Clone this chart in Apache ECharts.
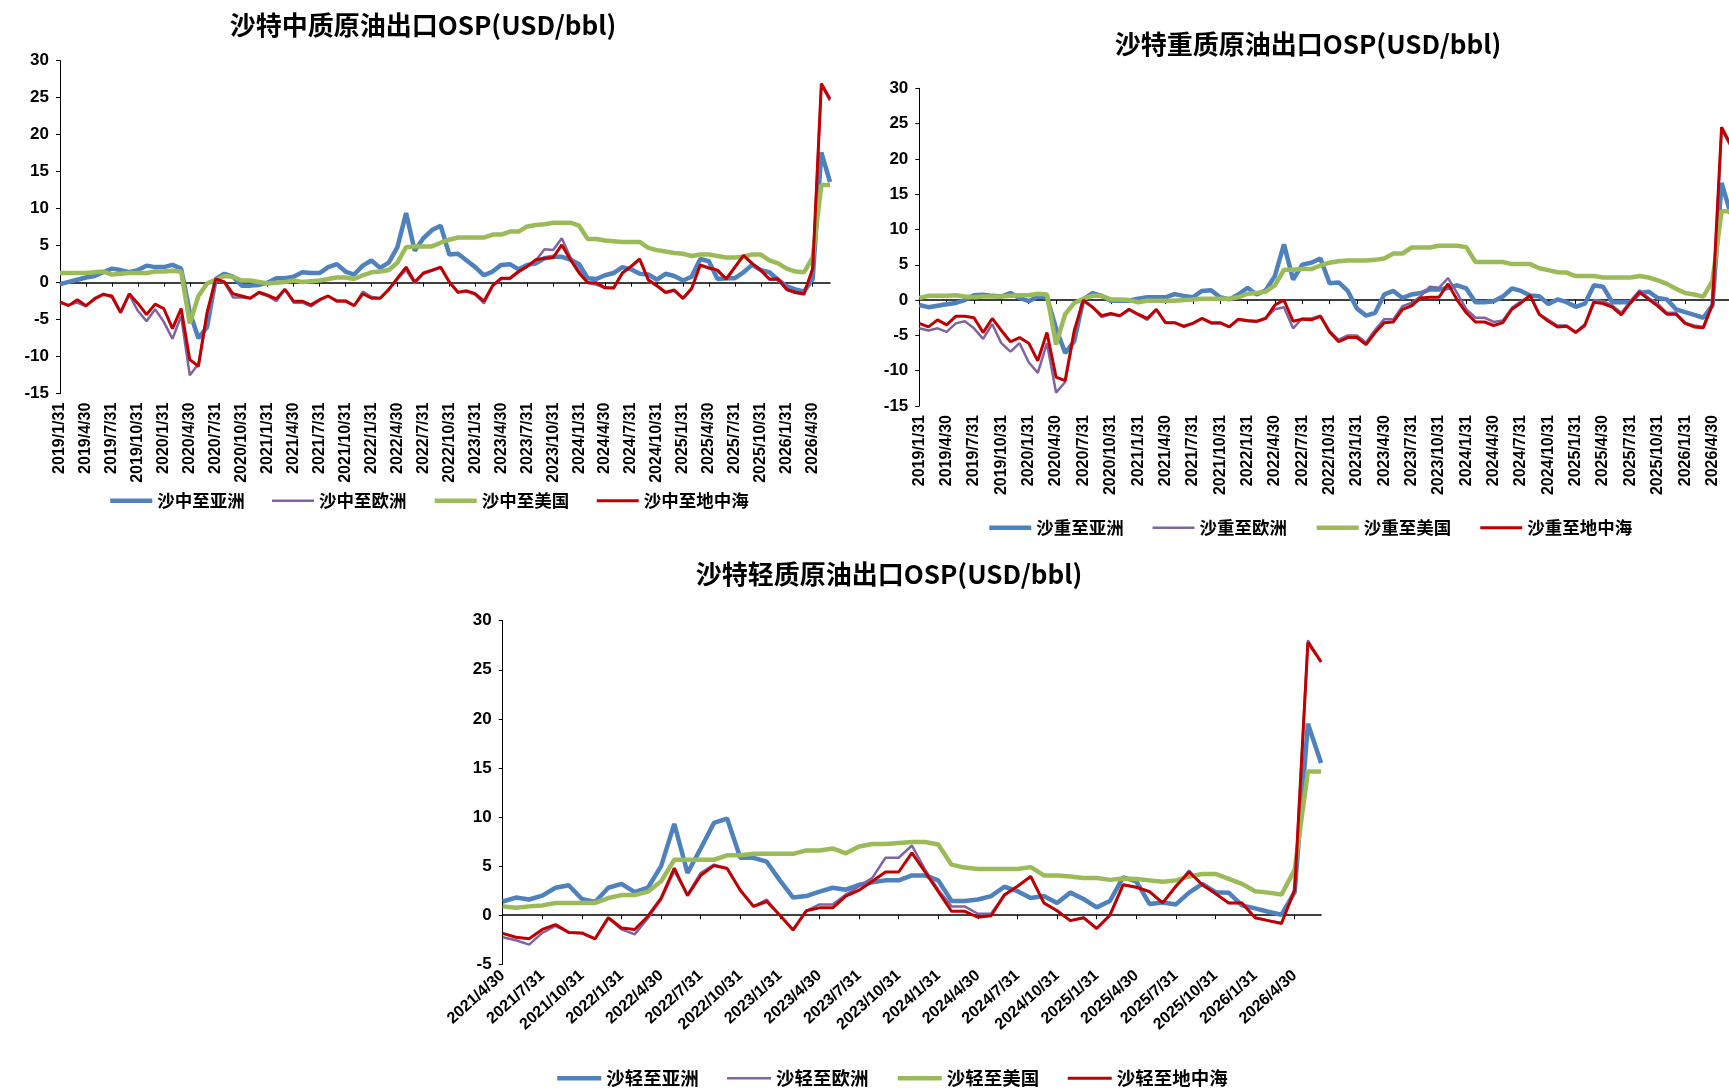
<!DOCTYPE html>
<html>
<head>
<meta charset="utf-8">
<script src="https://cdn.jsdelivr.net/npm/echarts@6/dist/echarts.min.js"></script>
<style>
    html, body { margin: 0; padding: 0; background: #fff; overflow: hidden; }
    #main { width: 1745px; height: 1089px; }
</style>
</head>
<body>
<div id="main"></div>
<script>
// 月末日期标签 (类别轴)
function monthEnds(year, month, n) {
    const out = [];
    for (let k = 0; k < n; k++) {
        const y = year + Math.floor((month - 1 + k) / 12);
        const m = (month - 1 + k) % 12 + 1;
        const d = new Date(y, m, 0).getDate();
        out.push(y + '/' + m + '/' + d);
    }
    return out;
}

// 沙特中质 2019/1 - 2026/6
const medDates = monthEnds(2019, 1, 90);
const medAsia = [-0.2, 0.1, 0.4, 0.7, 0.9, 1.4, 1.9, 1.7, 1.4, 1.7, 2.3, 2.1, 2.1, 2.4, 1.9, -4.0, -7.5, -6.0, 0.5, 1.2,
    0.8, -0.4, -0.4, -0.3, 0.0, 0.6, 0.6, 0.8, 1.4, 1.3, 1.3, 2.1, 2.5, 1.5, 1.1, 2.3, 3.0, 2.0, 2.7, 4.8,
    9.4, 4.3, 6.0, 7.1, 7.7, 3.8, 3.9, 3.0, 2.1, 1.0, 1.5, 2.4, 2.5, 1.8, 2.4, 2.6, 3.3, 3.5, 3.5, 3.1,
    2.5, 0.6, 0.5, 1.0, 1.3, 2.1, 1.8, 1.2, 1.1, 0.4, 1.2, 0.9, 0.3, 0.8, 3.2, 2.9, 0.5, 0.6, 0.6, 1.4,
    2.4, 1.7, 1.4, 0.4, -0.5, -0.9, -1.2, 0.5, 17.6, 13.6];
const medEurope = [-2.8, -3.0, -2.7, -3.2, -2.1, -1.5, -2.0, -4.1, -1.6, -3.8, -5.2, -3.6, -5.3, -7.6, -4.5, -12.5, -11.0, -4.5, 0.3, 0.0,
    -2.0, -2.0, -2.1, -1.4, -1.8, -2.5, -0.9, -2.7, -2.7, -3.2, -2.4, -1.8, -2.4, -2.4, -3.1, -1.2, -1.9, -2.1, -1.0, 0.5,
    1.7, -0.1, 1.2, 1.6, 2.0, 0.1, -1.3, -1.2, -1.6, -2.8, -0.5, 0.5, 0.5, 1.4, 2.2, 3.0, 4.5, 4.4, 6.0, 3.4,
    1.6, 0.0, -0.3, -0.7, -0.8, 1.3, 2.1, 3.1, 0.3, -0.5, -1.4, -1.1, -2.2, -0.9, 2.3, 1.9, 1.6, 0.4, 2.0, 3.6,
    2.5, 1.6, 0.4, 0.4, -1.0, -1.4, -1.6, 1.8, 26.7, 24.6];
const medUS = [1.3, 1.3, 1.3, 1.3, 1.4, 1.5, 1.1, 1.2, 1.3, 1.3, 1.3, 1.5, 1.5, 1.6, 1.5, -5.5, -1.8, -0.1, 0.4, 0.9,
    0.8, 0.3, 0.3, 0.1, -0.1, 0.0, 0.1, 0.3, 0.1, 0.2, 0.3, 0.5, 0.7, 0.7, 0.5, 1.0, 1.4, 1.5, 1.7, 2.7,
    4.8, 4.9, 4.9, 4.9, 5.4, 5.8, 6.1, 6.1, 6.1, 6.1, 6.5, 6.5, 6.9, 6.9, 7.6, 7.8, 7.9, 8.1, 8.1, 8.1,
    7.7, 5.9, 5.9, 5.7, 5.6, 5.5, 5.5, 5.5, 4.7, 4.4, 4.2, 4.0, 3.9, 3.6, 3.8, 3.8, 3.6, 3.4, 3.4, 3.5,
    3.8, 3.8, 3.0, 2.6, 1.9, 1.5, 1.4, 3.4, 13.2, 13.2];
const medMed = [-2.6, -3.1, -2.3, -3.1, -2.2, -1.6, -1.8, -4.0, -1.5, -2.8, -4.3, -2.9, -3.5, -6.2, -3.5, -10.4, -11.3, -4.0, 0.5, 0.1,
    -1.5, -1.8, -2.1, -1.3, -1.7, -2.2, -0.9, -2.5, -2.5, -3.0, -2.3, -1.8, -2.5, -2.5, -3.1, -1.5, -2.1, -2.1, -0.9, 0.6,
    2.1, 0.1, 1.3, 1.7, 2.1, 0.1, -1.3, -1.1, -1.5, -2.5, -0.4, 0.6, 0.6, 1.5, 2.2, 3.1, 3.3, 3.4, 5.1, 3.1,
    1.3, 0.0, 0.0, -0.7, -0.7, 1.3, 2.2, 3.2, 0.4, -0.4, -1.3, -1.0, -2.1, -0.8, 2.4, 2.0, 1.7, 0.5, 2.1, 3.7,
    2.6, 1.7, 0.5, 0.5, -0.9, -1.3, -1.5, 1.9, 26.9, 24.8];

// 沙特重质 2019/1 - 2026/6
const heavyDates = monthEnds(2019, 1, 90);
const heavyAsia = [-0.7, -1.0, -0.8, -0.6, -0.4, 0.0, 0.7, 0.75, 0.6, 0.5, 1.0, 0.3, -0.15, 0.5, 0.4, -4.0, -7.5, -5.8, 0.1, 1.0,
    0.6, -0.1, -0.1, -0.1, 0.2, 0.4, 0.4, 0.4, 0.85, 0.6, 0.4, 1.3, 1.4, 0.4, 0.1, 0.8, 1.75, 0.8, 1.4, 3.4,
    7.9, 2.9, 5.0, 5.3, 5.9, 2.4, 2.5, 1.3, -1.2, -2.2, -1.8, 0.8, 1.3, 0.3, 0.8, 1.0, 1.5, 1.5, 1.7, 2.1,
    1.65, -0.3, -0.3, -0.15, 0.5, 1.65, 1.3, 0.65, 0.55, -0.55, 0.1, -0.3, -0.95, -0.5, 2.1, 1.9, -0.3, -0.3, -0.3, 1.0,
    1.2, 0.3, 0.1, -1.3, -1.7, -2.1, -2.5, -0.75, 16.6, 12.2];
const heavyEurope = [-4.0, -4.3, -4.0, -4.5, -3.3, -3.0, -4.0, -5.5, -3.4, -6.1, -7.3, -6.1, -8.8, -10.3, -6.1, -13.1, -11.6, -4.6, -0.2, -1.0,
    -2.4, -2.0, -2.3, -1.4, -2.1, -2.8, -1.4, -3.2, -3.2, -3.8, -3.3, -2.6, -3.3, -3.3, -3.8, -2.8, -3.0, -3.1, -2.5, -1.3,
    -1.0, -4.0, -2.6, -2.6, -2.2, -4.4, -5.6, -5.0, -5.0, -6.0, -4.2, -2.7, -2.7, -0.85, -0.4, 0.55, 1.9, 1.75, 3.1, 1.0,
    -1.3, -2.5, -2.5, -3.1, -2.9, -1.1, -0.15, 0.55, -2.0, -2.8, -3.6, -3.6, -4.5, -3.4, 0.0, -0.15, -0.75, -1.8, -0.15, 1.4,
    0.3, -0.5, -1.8, -1.8, -3.2, -3.6, -3.8, -0.6, 24.1, 21.8];
const heavyUS = [0.3, 0.6, 0.6, 0.6, 0.7, 0.5, 0.4, 0.5, 0.5, 0.5, 0.6, 0.7, 0.7, 0.9, 0.8, -6.3, -2.0, -0.4, 0.2, 0.6,
    0.6, 0.1, 0.1, 0.0, -0.3, -0.1, -0.1, -0.1, -0.1, 0.0, 0.1, 0.2, 0.2, 0.2, 0.2, 0.4, 0.9, 1.0, 1.2, 2.1,
    4.3, 4.3, 4.4, 4.4, 4.9, 5.3, 5.5, 5.6, 5.6, 5.6, 5.7, 5.9, 6.6, 6.6, 7.45, 7.45, 7.45, 7.7, 7.7, 7.7,
    7.5, 5.4, 5.4, 5.4, 5.4, 5.1, 5.1, 5.1, 4.5, 4.25, 3.95, 3.9, 3.4, 3.4, 3.4, 3.2, 3.2, 3.2, 3.2, 3.4,
    3.2, 2.8, 2.3, 1.6, 1.0, 0.8, 0.5, 2.7, 12.6, 12.6];
const heavyMed = [-3.3, -3.8, -2.8, -3.5, -2.3, -2.3, -2.5, -4.6, -2.6, -4.3, -5.9, -5.3, -6.1, -8.6, -4.6, -10.9, -11.4, -4.3, 0.0, -1.0,
    -2.2, -1.9, -2.2, -1.3, -2.0, -2.6, -1.3, -3.2, -3.2, -3.7, -3.3, -2.6, -3.2, -3.2, -3.8, -2.7, -2.9, -3.0, -2.6, -0.7,
    0.0, -3.0, -2.7, -2.8, -2.3, -4.5, -5.9, -5.3, -5.3, -6.3, -4.6, -3.2, -3.1, -1.3, -0.8, 0.3, 0.4, 0.4, 2.3, 0.0,
    -1.8, -3.1, -3.1, -3.6, -3.2, -1.3, -0.4, 0.65, -2.0, -3.0, -3.8, -3.7, -4.6, -3.6, -0.3, -0.5, -1.0, -2.1, -0.4, 1.1,
    0.1, -0.85, -2.0, -2.0, -3.3, -3.8, -3.9, -0.6, 24.5, 22.0];

// 沙特轻质 2021/4 - 2026/6
const lightDates = monthEnds(2021, 4, 63);
const lightAsia = [1.4, 1.8, 1.6, 2.0, 2.8, 3.05, 1.65, 1.35, 2.8, 3.2, 2.35, 2.8, 5.0, 9.3, 4.3, 6.8, 9.4, 9.85, 5.85, 5.85,
    5.45, 3.55, 1.8, 1.95, 2.4, 2.8, 2.6, 3.1, 3.35, 3.55, 3.55, 4.05, 4.05, 3.55, 1.45, 1.45, 1.6, 1.95, 2.9, 2.45,
    1.75, 1.95, 1.25, 2.3, 1.65, 0.8, 1.45, 3.85, 3.45, 1.15, 1.3, 1.1, 2.3, 3.2, 2.35, 2.3, 1.0, 0.7, 0.35, 0.05,
    2.35, 19.5, 15.5];
const lightEurope = [-2.25, -2.55, -3.0, -1.8, -1.1, -1.75, -1.85, -2.4, -0.3, -1.45, -1.95, -0.3, 1.6, 4.5, 2.1, 4.3, 5.15, 4.8, 2.55, 0.9,
    1.6, 0.0, -1.5, 0.45, 1.1, 1.1, 2.1, 2.95, 3.8, 5.85, 5.85, 7.1, 4.65, 2.6, 0.9, 0.9, 0.15, 0.15, 2.05, 2.95,
    3.95, 1.25, 0.45, -0.55, -0.25, -1.35, 0.0, 3.1, 2.85, 2.4, 1.25, 2.95, 4.55, 3.1, 2.2, 1.25, 1.25, -0.25, -0.55, -0.8,
    2.6, 28.0, 25.8];
const lightUS = [0.9, 0.75, 0.9, 1.0, 1.25, 1.25, 1.25, 1.25, 1.75, 2.05, 2.05, 2.4, 3.45, 5.65, 5.65, 5.65, 5.65, 6.1, 6.1, 6.25,
    6.25, 6.25, 6.25, 6.6, 6.6, 6.8, 6.3, 7.0, 7.25, 7.25, 7.35, 7.45, 7.45, 7.2, 5.15, 4.85, 4.7, 4.7, 4.7, 4.7,
    4.9, 4.05, 4.05, 3.95, 3.8, 3.8, 3.6, 3.75, 3.7, 3.55, 3.4, 3.55, 3.95, 4.2, 4.2, 3.7, 3.2, 2.45, 2.3, 2.1,
    4.65, 14.65, 14.65];
const lightMed = [-1.85, -2.25, -2.4, -1.45, -0.95, -1.75, -1.8, -2.4, -0.25, -1.3, -1.45, -0.1, 1.75, 4.8, 2.0, 4.05, 5.05, 4.75, 2.55, 0.9,
    1.4, 0.0, -1.5, 0.45, 0.75, 0.75, 1.95, 2.55, 3.45, 4.4, 4.4, 6.35, 4.4, 2.4, 0.4, 0.4, -0.2, -0.05, 2.05, 2.95,
    3.95, 1.25, 0.45, -0.55, -0.25, -1.35, 0.0, 3.1, 2.85, 2.4, 1.25, 2.95, 4.4, 3.1, 2.2, 1.25, 1.25, -0.25, -0.55, -0.85,
    2.6, 27.8, 25.8];

const latinFont = 'Liberation Sans, Arial, sans-serif';
const cjkFont = 'Noto Sans CJK SC, sans-serif';
const colors = ['#4F81BD', '#8064A2', '#9BBB59', '#C00000'];
const widths = [4.5, 2.5, 4.5, 3];

// 三个子图的布局
const panels = [
    {
        title: '沙特中质原油出口OSP(USD/bbl)', titleX: 423, titleY: 25,
        grid: {left: 60, top: 60.6, width: 770, height: 333.1},
        dates: medDates, yMin: -15, rotate: 90,
        names: ['沙中至亚洲', '沙中至欧洲', '沙中至美国', '沙中至地中海'],
        values: [medAsia, medEurope, medUS, medMed],
        legend: {left: 103, top: 487, gap: 26, w: 42, size: 17.5}
    },
    {
        title: '沙特重质原油出口OSP(USD/bbl)', titleX: 1308, titleY: 44,
        grid: {left: 919.3, top: 88.3, width: 811.4, height: 317.7},
        dates: heavyDates, yMin: -15, rotate: 90,
        names: ['沙重至亚洲', '沙重至欧洲', '沙重至美国', '沙重至地中海'],
        values: [heavyAsia, heavyEurope, heavyUS, heavyMed],
        legend: {left: 982, top: 514, gap: 27.5, w: 42, size: 17.5}
    },
    {
        title: '沙特轻质原油出口OSP(USD/bbl)', titleX: 889, titleY: 574,
        grid: {left: 502.7, top: 620.7, width: 818.4, height: 343.6},
        dates: lightDates, yMin: -5, rotate: 42,
        names: ['沙轻至亚洲', '沙轻至欧洲', '沙轻至美国', '沙轻至地中海'],
        values: [lightAsia, lightEurope, lightUS, lightMed],
        legend: {left: 550, top: 1064, gap: 27, w: 44, size: 18.5}
    }
];

const option = {
    animation: false,
    backgroundColor: '#fff',
    grid: [],
    xAxis: [],
    yAxis: [],
    legend: [],
    series: [],
    graphic: []
};

panels.forEach((p, g) => {
    option.grid.push(Object.assign({containLabel: false}, p.grid));

    // 零轴：轴线与刻度
    option.xAxis.push({
        type: 'category',
        gridIndex: g,
        data: p.dates,
        boundaryGap: false,
        axisLine: {onZero: true, lineStyle: {color: '#000', width: 1.5}},
        axisTick: {show: true, interval: 2, length: 4, lineStyle: {color: '#000', width: 1}},
        axisLabel: {show: false},
        splitLine: {show: false}
    });
    // 底部：日期标签
    option.xAxis.push({
        type: 'category',
        gridIndex: g,
        position: 'bottom',
        data: p.dates,
        boundaryGap: false,
        axisLine: {show: false, onZero: false},
        axisTick: {show: false},
        axisLabel: {
            interval: 2,
            rotate: p.rotate,
            margin: 9,
            color: '#000',
            fontFamily: latinFont,
            fontWeight: 'bold',
            fontSize: 16
        },
        splitLine: {show: false}
    });
    option.yAxis.push({
        type: 'value',
        gridIndex: g,
        min: p.yMin,
        max: 30,
        interval: 5,
        axisLine: {show: true, lineStyle: {color: '#000', width: 1}},
        axisTick: {show: true, length: 4, lineStyle: {color: '#000'}},
        axisLabel: {
            margin: 11,
            color: '#000',
            fontFamily: latinFont,
            fontWeight: 'bold',
            fontSize: 17
        },
        splitLine: {show: false}
    });

    p.names.forEach((name, k) => {
        option.series.push({
            name: name,
            type: 'line',
            xAxisIndex: g * 2,
            yAxisIndex: g,
            data: p.values[k],
            symbol: 'none',
            color: colors[k],
            lineStyle: {color: colors[k], width: widths[k]}
        });
    });

    option.legend.push({
        data: p.names,
        left: p.legend.left,
        top: p.legend.top,
        orient: 'horizontal',
        itemWidth: p.legend.w,
        itemHeight: 14,
        itemGap: p.legend.gap,
        // 图例只画线，不画圆点；线宽跟随系列
        itemStyle: {color: 'rgba(0,0,0,0)', borderColor: 'rgba(0,0,0,0)', borderWidth: 0},
        lineStyle: {width: 'inherit'},
        textStyle: {
            color: '#000',
            fontFamily: cjkFont,
            fontWeight: 'bold',
            fontSize: p.legend.size
        }
    });

    option.graphic.push({
        type: 'text',
        x: p.titleX,
        y: p.titleY,
        style: {
            text: p.title,
            fill: '#000',
            font: 'bold 26px ' + cjkFont,
            textAlign: 'center',
            textVerticalAlign: 'middle'
        }
    });
});

const chart = echarts.init(document.getElementById('main'));
chart.setOption(option);
</script>
</body>
</html>
